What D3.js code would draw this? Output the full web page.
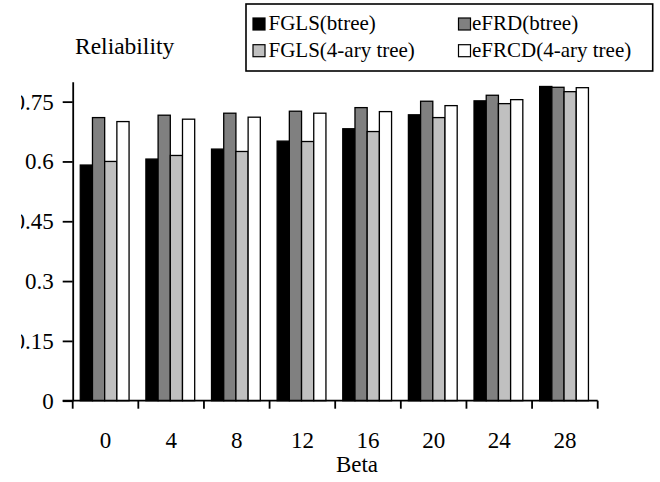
<!DOCTYPE html>
<html>
<head>
<meta charset="utf-8">
<script src="https://cdn.jsdelivr.net/npm/d3@7"></script>
<style>
  html, body { margin: 0; padding: 0; background: #fff; }
  svg { display: block; }
  svg text { font-family: "Times New Roman", "Liberation Serif", Tinos, "DejaVu Serif", serif; fill: #000; }
</style>
</head>
<body>
<svg id="chart" width="660" height="482"></svg>
<script>
// Reliability versus Beta for four schemes
const betas = ["0", "4", "8", "12", "16", "20", "24", "28"];
const seriesNames = ["FGLS(btree)", "eFRD(btree)", "FGLS(4-ary tree)", "eFRCD(4-ary tree)"];
const seriesColors = ["#000000", "#808080", "#c0c0c0", "#ffffff"];
const fglsBtree = [0.591, 0.606, 0.631, 0.651, 0.682, 0.717, 0.752, 0.788];
const efrdBtree = [0.710, 0.716, 0.721, 0.726, 0.735, 0.751, 0.766, 0.786];
const fgls4ary  = [0.600, 0.615, 0.625, 0.650, 0.675, 0.710, 0.745, 0.775];
const efrcd4ary = [0.700, 0.706, 0.711, 0.721, 0.725, 0.740, 0.755, 0.785];
const yTicks = [0, 0.15, 0.3, 0.45, 0.6, 0.75];
const yTickLabels = ["0", "0.15", "0.3", "0.45", "0.6", "0.75"];

const seriesValues = [fglsBtree, efrdBtree, fgls4ary, efrcd4ary];

const svg = d3.select("#chart");
const left = 72.7, right = 597.7, bottom = 400.7;

const x0 = d3.scaleBand().domain(betas).range([left, right]).padding(0);
const x1 = d3.scaleBand().domain(d3.range(seriesNames.length))
  .range([0, x0.bandwidth()]).paddingInner(0).paddingOuter(0.69).align(0.45);
const y = d3.scaleLinear().domain([0, 0.8]).range([bottom, 81.7]);

// bars
const groups = svg.append("g").selectAll("g")
  .data(betas)
  .join("g")
  .attr("transform", d => `translate(${x0(d)},0)`);

groups.selectAll("rect")
  .data((d, i) => seriesValues.map((vals, s) => ({ s, v: vals[i] })))
  .join("rect")
  .attr("x", d => x1(d.s))
  .attr("width", x1.bandwidth())
  .attr("y", d => y(d.v))
  .attr("height", d => y(0) - y(d.v))
  .attr("fill", d => seriesColors[d.s])
  .attr("stroke", "#000")
  .attr("stroke-width", 1.3);

// y axis; the figure's left edge cuts into the widest labels
svg.append("defs").append("clipPath").attr("id", "yclip")
  .append("rect").attr("x", 21).attr("y", 0).attr("width", 639).attr("height", 482);

const yAxis = svg.append("g").attr("clip-path", "url(#yclip)")
  .append("g")
  .attr("transform", `translate(${left},0)`)
  .call(d3.axisLeft(y).tickValues(yTicks)
    .tickFormat((d, i) => yTickLabels[i]).tickSize(10).tickPadding(9).tickSizeOuter(0));
yAxis.attr("font-family", null).attr("font-size", null);
yAxis.select(".domain").attr("stroke", "#000").attr("stroke-width", 1.8);
yAxis.selectAll(".tick line").attr("stroke", "#000").attr("stroke-width", 1.8);
yAxis.selectAll(".tick text").style("font-size", "23px").attr("fill", "#000");

// x axis: category labels centred, tick marks on band boundaries
const xAxisG = svg.append("g").attr("transform", `translate(0,${bottom})`);
xAxisG.append("line").attr("x1", left - 10).attr("x2", right)
  .attr("stroke", "#000").attr("stroke-width", 1.8);
const boundaries = betas.map(b => x0(b)).concat([right]);
xAxisG.selectAll("line.tk").data(boundaries).join("line")
  .attr("class", "tk")
  .attr("x1", d => d).attr("x2", d => d).attr("y1", 0).attr("y2", 8)
  .attr("stroke", "#000").attr("stroke-width", 1.8);
xAxisG.selectAll("text").data(betas).join("text")
  .attr("x", d => x0(d) + x0.bandwidth() / 2)
  .attr("y", 47)
  .attr("text-anchor", "middle")
  .style("font-size", "23px")
  .text(d => d);

// axis titles
svg.append("text").attr("x", 357).attr("y", 472).attr("text-anchor", "middle")
  .style("font-size", "23px").text("Beta");
svg.append("text").attr("x", 75).attr("y", 54)
  .style("font-size", "23.5px").text("Reliability");

// legend
const legend = svg.append("g");
legend.append("rect").attr("x", 246).attr("y", 4).attr("width", 406.7).attr("height", 67)
  .attr("fill", "#fff").attr("stroke", "#000").attr("stroke-width", 1.6);
const legendPos = [
  { sx: 253, tx: 268.5, base: 30 },
  { sx: 458.5, tx: 472, base: 30 },
  { sx: 253, tx: 268.5, base: 56.7 },
  { sx: 458.5, tx: 472, base: 56.7 }
];
seriesNames.forEach((name, i) => {
  const p = legendPos[i];
  legend.append("rect").attr("x", p.sx).attr("y", p.base - 12).attr("width", 12).attr("height", 12)
    .attr("fill", seriesColors[i]).attr("stroke", "#000").attr("stroke-width", 1.2);
  legend.append("text").attr("x", p.tx).attr("y", p.base)
    .style("font-size", "21px").text(name);
});
</script>
</body>
</html>
